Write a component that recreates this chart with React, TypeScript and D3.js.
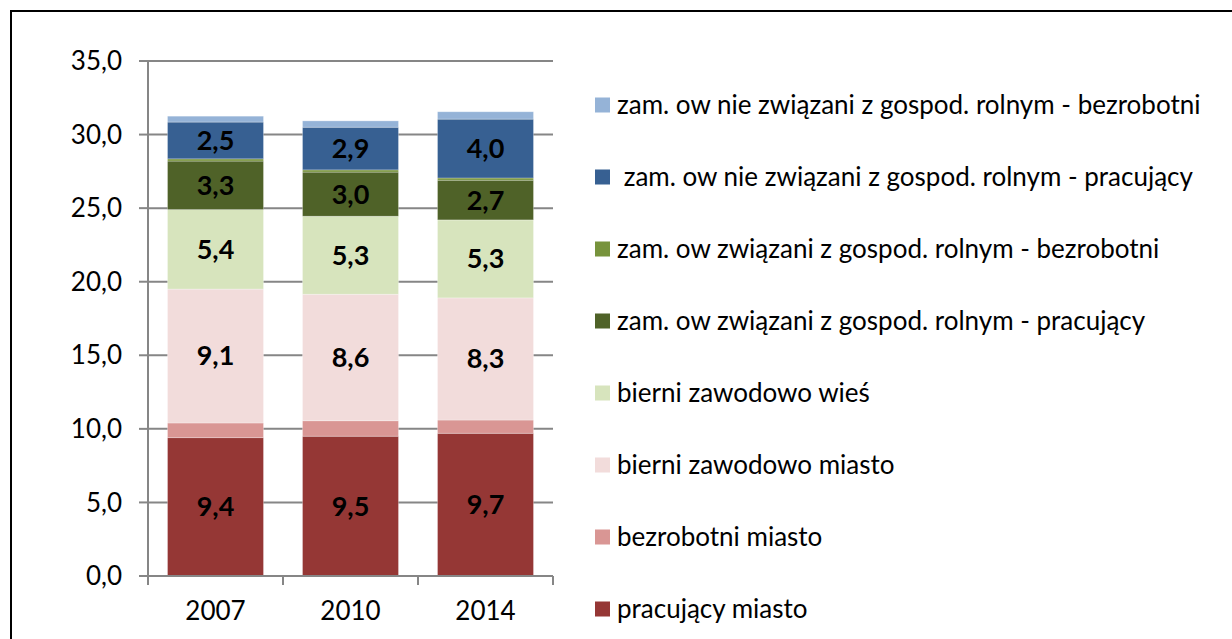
import React from "react";
import * as d3 from "d3";

const years = ["2007", "2010", "2014"];
const seriesNames = [
  "pracujący miasto",
  "bezrobotni miasto",
  "bierni zawodowo miasto",
  "bierni zawodowo wieś",
  "zam. ow związani z gospod. rolnym - pracujący",
  "zam. ow związani z gospod. rolnym - bezrobotni",
  " zam. ow nie związani z gospod. rolnym - pracujący",
  "zam. ow nie związani z gospod. rolnym - bezrobotni",
];
const seriesColors = ["#953735", "#D99694", "#F2DCDB", "#D7E4BD", "#4F6228", "#77933C", "#376092", "#95B3D7"];
const pracujacyMiasto = [9.4, 9.5, 9.7];
const bezrobotniMiasto = [1.0, 1.05, 0.9];
const bierniMiasto = [9.1, 8.6, 8.3];
const bierniWies = [5.4, 5.3, 5.3];
const zwiazaniPracujacy = [3.3, 3.0, 2.7];
const zwiazaniBezrobotni = [0.15, 0.15, 0.15];
const nieZwiazaniPracujacy = [2.5, 2.9, 4.0];
const nieZwiazaniBezrobotni = [0.4, 0.43, 0.5];
const labelled = [true, false, true, true, true, false, true, false];
const yTicks = [0, 5, 10, 15, 20, 25, 30, 35];

const seriesValues = [
  pracujacyMiasto,
  bezrobotniMiasto,
  bierniMiasto,
  bierniWies,
  zwiazaniPracujacy,
  zwiazaniBezrobotni,
  nieZwiazaniPracujacy,
  nieZwiazaniBezrobotni,
];

const FONT = "Lato, 'Open Sans', sans-serif";

export default function App() {
  const W = 1232, H = 639;
  const x0 = 148, x1 = 553, yTop = 61, yBot = 576;
  const y = d3.scaleLinear().domain([0, 35]).range([yBot, yTop]);
  const x = d3.scaleBand().domain(years).range([x0, x1]).paddingInner(0.289).paddingOuter(0.1445);

  const rows = years.map((yr, i) => {
    const o: any = { year: yr };
    seriesValues.forEach((s, k) => (o["s" + k] = s[i]));
    return o;
  });
  const keys = seriesValues.map((_, k) => "s" + k);
  const stacked = d3.stack().keys(keys)(rows);
  const bandStep = (x1 - x0) / years.length;

  const legendY = d3.scalePoint().domain(d3.range(8).map(String)).range([609, 105]);

  return (
    <svg width={W} height={H} style={{ position: "absolute", left: 0, top: 0, display: "block" }}>
      <rect x={0} y={0} width={W} height={H} fill="#fff" />
      <rect x={11} y={11} width={W + 20} height={H + 20} fill="none" stroke="#000" strokeWidth={2} />
      {yTicks.map((t) => (
        <g key={t}>
          {t > 0 && <line x1={x0} x2={x1} y1={y(t)} y2={y(t)} stroke="#868686" strokeWidth={2} />}
          <line x1={x0 - 9} x2={x0} y1={y(t)} y2={y(t)} stroke="#868686" strokeWidth={2} />
          <text x={122} y={y(t)} dy="0.35em" textAnchor="end" fontFamily={FONT} fontSize={26} fill="#000">
            {d3.format(".1f")(t).replace(".", ",")}
          </text>
        </g>
      ))}
      {stacked.map((layer, k) => (
        <g key={k}>
          {layer.map((d: any, i) => (
            <rect
              key={i}
              x={x(years[i])!}
              width={x.bandwidth()}
              y={y(d[1])}
              height={y(d[0]) - y(d[1])}
              fill={seriesColors[k]}
              stroke="#fff"
              strokeOpacity={0.35}
              strokeWidth={0.8}
            />
          ))}
        </g>
      ))}
      {stacked.map((layer, k) =>
        labelled[k]
          ? layer.map((d: any, i) => (
              <text
                key={k + "-" + i}
                x={x(years[i])! + x.bandwidth() / 2}
                y={(y(d[0]) + y(d[1])) / 2}
                dy="0.35em"
                textAnchor="middle"
                fontFamily={FONT}
                fontWeight="bold"
                fontSize={27}
                fill="#000"
              >
                {d3.format(".1f")(seriesValues[k][i]).replace(".", ",")}
              </text>
            ))
          : null
      )}
      <line x1={x0} x2={x0} y1={yTop} y2={yBot} stroke="#868686" strokeWidth={2} />
      <line x1={x0} x2={x1} y1={yBot} y2={yBot} stroke="#868686" strokeWidth={2} />
      {d3.range(years.length + 1).map((i) => (
        <line key={i} x1={x0 + i * bandStep} x2={x0 + i * bandStep} y1={yBot} y2={yBot + 9} stroke="#868686" strokeWidth={2} />
      ))}
      {years.map((yr) => (
        <text key={yr} x={x(yr)! + x.bandwidth() / 2} y={611} dy="0.35em" textAnchor="middle" fontFamily={FONT} fontSize={26} fill="#000">
          {yr}
        </text>
      ))}
      {seriesNames.map((name, k) => {
        const cy = legendY(String(k))!;
        return (
          <g key={k}>
            <rect x={595} y={cy - 7.5} width={15} height={15} fill={seriesColors[k]} />
            <text x={617} y={cy} dy="0.35em" fontFamily={FONT} fontSize={26} fill="#000" style={{ whiteSpace: "pre" }}>
              {name}
            </text>
          </g>
        );
      })}
    </svg>
  );
}
